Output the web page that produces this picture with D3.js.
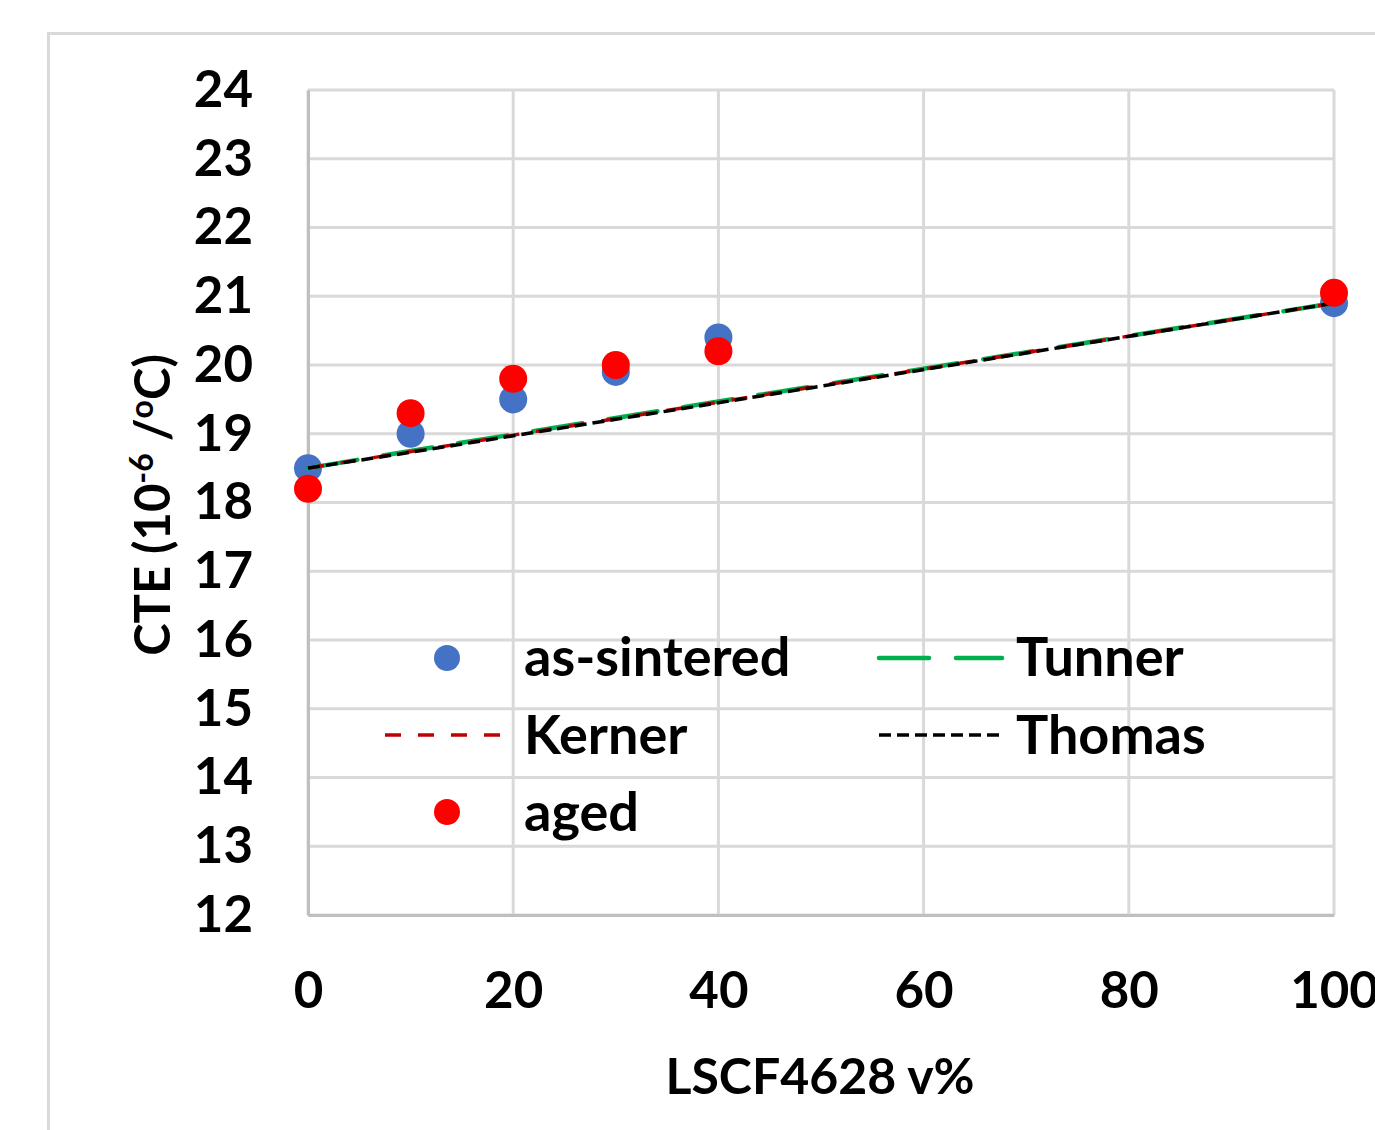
<!DOCTYPE html>
<html>
<head>
<meta charset="utf-8">
<script src="https://cdn.jsdelivr.net/npm/d3@7"></script>
<style>
  html, body { margin: 0; padding: 0; background: #fff; }
  svg text { font-family: Lato, "Open Sans", sans-serif; font-weight: 700; fill: #000; }
</style>
</head>
<body>
<svg id="chart" width="1375" height="1130"></svg>
<script>
// LSCF4628 volume fraction (%)
const composition = [0, 10, 20, 30, 40, 100];

// Measured CTE (10^-6 /°C)
const asSintered = [18.5, 19.0, 19.5, 19.9, 20.4, 20.9];
const aged       = [18.2, 19.3, 19.8, 20.0, 20.2, 21.05];

// Model predictions
const tunner = [18.5, 18.75, 18.99, 19.23, 19.47, 20.9];
const kerner = [18.5, 18.74, 18.98, 19.22, 19.46, 20.9];
const thomas = [18.5, 18.73, 18.97, 19.21, 19.45, 20.9];

const xTicks = [0, 20, 40, 60, 80, 100];
const yTicks = [12, 13, 14, 15, 16, 17, 18, 19, 20, 21, 22, 23, 24];

const svg = d3.select("#chart");
const W = 1375, H = 1130;

// outer chart frame
svg.append("rect")
  .attr("x", 48.5).attr("y", 33.5)
  .attr("width", W + 20).attr("height", H + 20)
  .attr("fill", "#fff").attr("stroke", "#d9d9d9").attr("stroke-width", 3);

const x = d3.scaleLinear().domain([0, 100]).range([308, 1334]);
const y = d3.scaleLinear().domain([12, 24]).range([915, 90]);

const grid = svg.append("g");
// horizontal gridlines
grid.selectAll("line.h").data(yTicks).join("line")
  .attr("x1", x(0)).attr("x2", x(100))
  .attr("y1", d => y(d)).attr("y2", d => y(d))
  .attr("stroke", "#d9d9d9").attr("stroke-width", 3);
// vertical gridlines
grid.selectAll("line.v").data(xTicks).join("line")
  .attr("x1", d => x(d)).attr("x2", d => x(d))
  .attr("y1", y(24)).attr("y2", y(12))
  .attr("stroke", "#d9d9d9").attr("stroke-width", 3);

const tickFont = 51;

// axis lines
const xAxis = svg.append("g").attr("transform", `translate(0,${y(12)})`)
  .call(d3.axisBottom(x).tickValues(xTicks).tickSize(0).tickPadding(57).tickFormat(d3.format("d")));
xAxis.select(".domain").attr("stroke", "#bfbfbf").attr("stroke-width", 3);
xAxis.selectAll("text").attr("font-size", tickFont).attr("font-family", "Lato").attr("font-weight", 700).attr("fill", "#000");

const yAxis = svg.append("g").attr("transform", `translate(${x(0)},0)`)
  .call(d3.axisLeft(y).tickValues(yTicks).tickSize(0).tickPadding(55).tickFormat(d3.format("d")));
yAxis.select(".domain").attr("stroke", "#bfbfbf").attr("stroke-width", 3);
yAxis.selectAll("text").attr("font-size", tickFont).attr("font-family", "Lato").attr("font-weight", 700).attr("fill", "#000");

// model line styles
const models = [
  { name: "Tunner", values: tunner, color: "#00B050", width: 4.5, dash: "50,26", cap: "round" },
  { name: "Kerner", values: kerner, color: "#C00000", width: 3.5, dash: "16,17", cap: "butt" },
  { name: "Thomas", values: thomas, color: "#000000", width: 3.5, dash: "12,6", cap: "butt" }
];

const line = d3.line().x(d => x(d[0])).y(d => y(d[1]));
const r = 14;

// as-sintered points
svg.append("g").selectAll("circle").data(composition.map((c, i) => [c, asSintered[i]])).join("circle")
  .attr("cx", d => x(d[0])).attr("cy", d => y(d[1])).attr("r", r).attr("fill", "#4472C4");

models.forEach(m => {
  svg.append("path")
    .datum(composition.map((c, i) => [c, m.values[i]]))
    .attr("d", line).attr("fill", "none")
    .attr("stroke", m.color).attr("stroke-width", m.width)
    .attr("stroke-dasharray", m.dash).attr("stroke-linecap", m.cap);
});

// aged points
svg.append("g").selectAll("circle").data(composition.map((c, i) => [c, aged[i]])).join("circle")
  .attr("cx", d => x(d[0])).attr("cy", d => y(d[1])).attr("r", r).attr("fill", "#FF0000");

// axis titles
svg.append("text")
  .attr("x", 820).attr("y", 1094).attr("text-anchor", "middle").attr("font-size", 50)
  .text("LSCF4628 v%");

const yt = svg.append("text")
  .attr("transform", "translate(170,505) rotate(-90)")
  .attr("text-anchor", "middle").attr("font-size", 49);
yt.append("tspan").text("CTE (10");
yt.append("tspan").attr("font-size", 32).attr("dy", -17).text("-6");
yt.append("tspan").attr("dy", 17).text(" /");
yt.append("tspan").attr("font-size", 32).attr("dy", -17).text("o");
yt.append("tspan").attr("dy", 17).text("C)");

// legend
const legendFont = 54;
const legend = svg.append("g");
function legendText(tx, ty, label) {
  legend.append("text").attr("x", tx).attr("y", ty).attr("dy", "0.35em")
    .attr("font-size", legendFont).text(label);
}
// row 1
legend.append("circle").attr("cx", 447).attr("cy", 658).attr("r", 13).attr("fill", "#4472C4");
legendText(524, 657, "as-sintered");
legend.append("line").attr("x1", 879).attr("x2", 1002).attr("y1", 658).attr("y2", 658)
  .attr("stroke", models[0].color).attr("stroke-width", models[0].width)
  .attr("stroke-dasharray", "50,27").attr("stroke-linecap", "round");
legendText(1016, 657, "Tunner");
// row 2
legend.append("line").attr("x1", 385).attr("x2", 500).attr("y1", 735).attr("y2", 735)
  .attr("stroke", models[1].color).attr("stroke-width", models[1].width)
  .attr("stroke-dasharray", models[1].dash);
legendText(524, 735, "Kerner");
legend.append("line").attr("x1", 879).attr("x2", 1002).attr("y1", 735).attr("y2", 735)
  .attr("stroke", models[2].color).attr("stroke-width", models[2].width)
  .attr("stroke-dasharray", models[2].dash);
legendText(1016, 735, "Thomas");
// row 3
legend.append("circle").attr("cx", 447).attr("cy", 812).attr("r", 13).attr("fill", "#FF0000");
legendText(524, 812, "aged");
</script>
</body>
</html>
